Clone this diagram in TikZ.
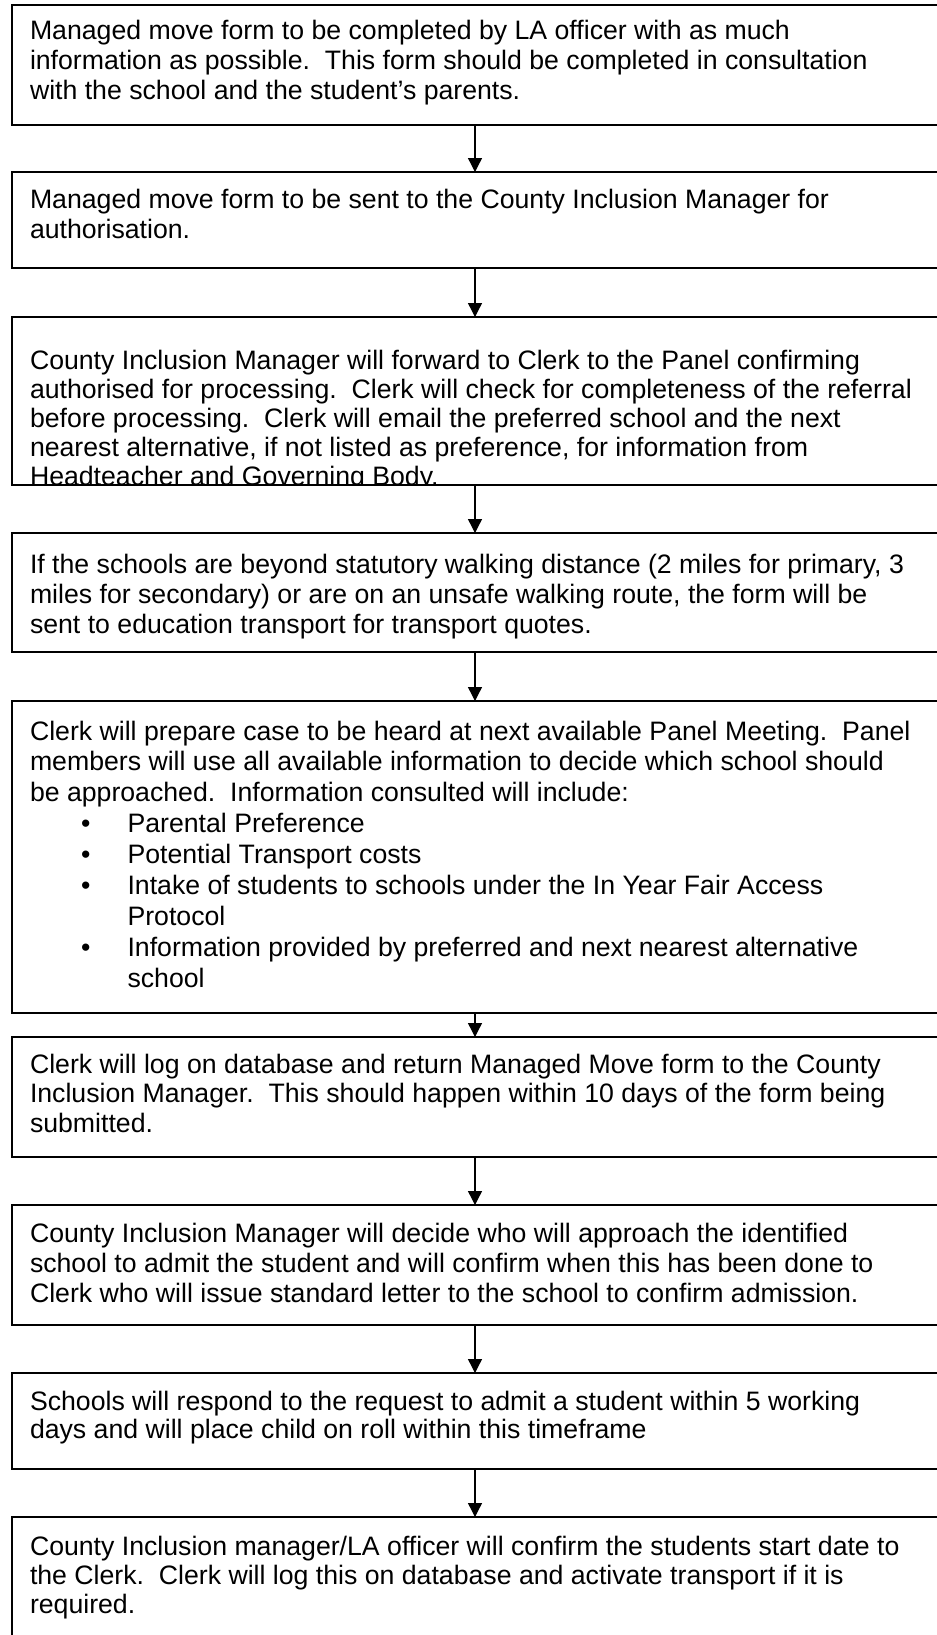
\documentclass[tikz,border=0pt]{standalone}
\usepackage{fontspec}
\setmainfont{Liberation Sans}
\usetikzlibrary{arrows.meta}
\newcommand{\flowtext}[2]{\parbox[t]{420pt}{\fontsize{12}{#1}\selectfont\frenchspacing\raggedright #2}}
\newcommand{\bul}[1]{\hspace*{23pt}\makebox[20.9pt][l]{•}#1}
\newcommand{\cont}[1]{\hspace*{43.9pt}#1}
\begin{document}
\begin{tikzpicture}[x=0.45pt,y=-0.45pt,
  flowbox/.style={draw=black, line width=0.9pt, rectangle, anchor=north west,
    minimum width=420pt, inner sep=0pt, outer sep=0pt},
  txt/.style={anchor=base west, inner sep=0pt, outer sep=0pt},
  arr/.style={draw=black, line width=0.6pt, -{Triangle[length=6.3pt,width=6.3pt]}}]
\useasboundingbox (0,0) rectangle (937,1635);
\clip (0,0) rectangle (937,1635);
\fill[white] (0,0) rectangle (937,1635);
% boxes
\node[flowbox, minimum height=54pt]   (b1) at (11.7,5) {};
\node[flowbox, minimum height=43.2pt] (b2) at (11.7,172) {};
\node[flowbox, minimum height=75.6pt] (b3) at (11.7,317) {};
\node[flowbox, minimum height=53.55pt] (b4) at (11.7,533) {};
\node[flowbox, minimum height=140.4pt] (b5) at (11.7,701) {};
\node[flowbox, minimum height=54pt]   (b6) at (11.7,1037) {};
\node[flowbox, minimum height=54pt]   (b7) at (11.7,1205) {};
\node[flowbox, minimum height=43.2pt] (b8) at (11.7,1373) {};
\node[flowbox, minimum height=57.6pt] (b9) at (11.7,1517) {};
% texts
\node[txt] (t1) at (30,39) {\flowtext{13.5pt}{Managed move form to be completed by LA officer with as much\\
information as possible.\ \ This form should be completed in consultation\\
with the school and the student’s parents.}};
\node[txt] (t2) at (30,208) {\flowtext{13.5pt}{Managed move form to be sent to the County Inclusion Manager for\\
authorisation.}};
\begin{scope}
\clip (b3.north west) rectangle (b3.south east);
\node[txt] (t3) at (30,369) {\flowtext{13.05pt}{County Inclusion Manager will forward to Clerk to the Panel confirming\\
authorised for processing.\ \ Clerk will check for completeness of the referral\\
before processing.\ \ Clerk will email the preferred school and the next\\
nearest alternative, if not listed as preference, for information from\\
Headteacher and Governing Body.}};
\end{scope}
\node[txt] (t4) at (30,573) {\flowtext{13.5pt}{If the schools are beyond statutory walking distance (2 miles for primary, 3\\
miles for secondary) or are on an unsafe walking route, the form will be\\
sent to education transport for transport quotes.}};
\node[txt] (t5) at (30,740) {\flowtext{13.9pt}{Clerk will prepare case to be heard at next available Panel Meeting.\ \ Panel\\
members will use all available information to decide which school should\\
be approached.\ \ Information consulted will include:\\
\bul{Parental Preference}\\
\bul{Potential Transport costs}\\
\bul{Intake of students to schools under the In Year Fair Access}\\
\cont{Protocol}\\
\bul{Information provided by preferred and next nearest alternative}\\
\cont{school}}};
\node[txt] (t6) at (30,1073) {\flowtext{13.4pt}{Clerk will log on database and return Managed Move form to the County\\
Inclusion Manager.\ \ This should happen within 10 days of the form being\\
submitted.}};
\node[txt] (t7) at (30,1242) {\flowtext{13.5pt}{County Inclusion Manager will decide who will approach the identified\\
school to admit the student and will confirm when this has been done to\\
Clerk who will issue standard letter to the school to confirm admission.}};
\node[txt] (t8) at (30,1410) {\flowtext{13.0pt}{Schools will respond to the request to admit a student within 5 working\\
days and will place child on roll within this timeframe}};
\node[txt] (t9) at (30,1555) {\flowtext{13.2pt}{County Inclusion manager/LA officer will confirm the students start date to\\
the Clerk.\ \ Clerk will log this on database and activate transport if it is\\
required.}};
% arrows
\coordinate (ax) at (475,0);
\draw[arr] (b1.south -| ax) -- (b2.north -| ax);
\draw[arr] (b2.south -| ax) -- (b3.north -| ax);
\draw[arr] (b3.south -| ax) -- (b4.north -| ax);
\draw[arr] (b4.south -| ax) -- (b5.north -| ax);
\draw[arr] (b5.south -| ax) -- (b6.north -| ax);
\draw[arr] (b6.south -| ax) -- (b7.north -| ax);
\draw[arr] (b7.south -| ax) -- (b8.north -| ax);
\draw[arr] (b8.south -| ax) -- (b9.north -| ax);
\end{tikzpicture}
\end{document}
